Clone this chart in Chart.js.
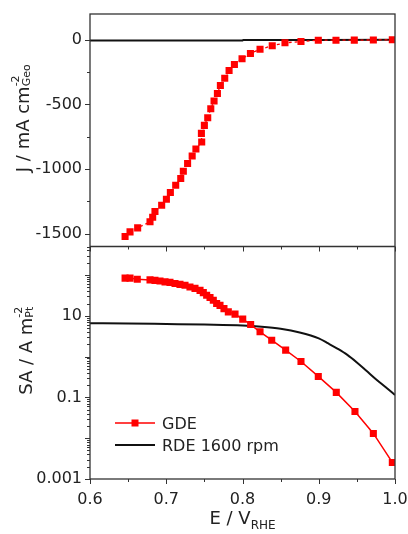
<!DOCTYPE html>
<html>
<head>
<meta charset="utf-8">
<script src="https://cdn.jsdelivr.net/npm/chart.js@4.4.1/dist/chart.umd.min.js"></script>
<style>
    html, body { margin: 0; padding: 0; background: #fff; }
    #grafico { display: block; }
</style>
</head>
<body>
<canvas id="grafico" width="408" height="534"></canvas>
<script>
// painel de cima: densidade de corrente GDE (E / V, J / mA cm-2)
const potencialGDE = [0.646, 0.6525, 0.6625, 0.6787, 0.6822, 0.6852, 0.694, 0.7002, 0.7054, 0.7124,
    0.719, 0.7224, 0.728, 0.734, 0.7389, 0.7465, 0.7461, 0.75, 0.7544, 0.7584,
    0.7627, 0.7671, 0.771, 0.7767, 0.7824, 0.7894, 0.7994, 0.8104, 0.823, 0.839,
    0.8557, 0.8767, 0.8994, 0.9226, 0.9466, 0.9716, 0.9965]
const correnteGDE = [-1523, -1487, -1456, -1409, -1373, -1329, -1280, -1234, -1182, -1126,
    -1074, -1018, -958, -899, -845, -791, -724, -662, -603, -533,
    -474, -415, -353, -297, -237, -191, -147, -106, -73, -46,
    -23, -13, -3, -3, -2, -1, 0]

// corrente RDE 1600 rpm no painel de cima
const potencialRDE = [0.6, 0.7, 0.8, 0.801, 0.9, 1.0]
const correnteRDE = [-6, -6, -6, -1, -0.5, 0]

// painel de baixo: atividade específica (A m-2 Pt), escala log
const potencialSA = [0.646, 0.6525, 0.662, 0.6787, 0.6852, 0.6918, 0.6984, 0.7049, 0.7115, 0.718,
    0.7246, 0.7311, 0.7377, 0.7443, 0.7486, 0.753, 0.7574, 0.7617, 0.7661, 0.7705,
    0.7757, 0.7814, 0.7902, 0.8003, 0.8107, 0.823, 0.8383, 0.8566, 0.8767, 0.8994,
    0.923, 0.9475, 0.9716, 0.9965]
const atividadeGDE = [84, 84, 79, 76, 74, 71, 68, 66, 62, 59,
    56, 51, 47, 42, 37, 32, 28, 24, 20, 18,
    15, 12.5, 11, 8.3, 6.1, 4.06, 2.53, 1.44, 0.76, 0.327,
    0.133, 0.045, 0.0131, 0.00255]

const potencialRDEsa = [0.6, 0.65, 0.7, 0.75, 0.8, 0.825, 0.85, 0.875, 0.9, 0.9125,
    0.925, 0.9375, 0.95, 0.9625, 0.975, 0.9875, 1.0]
const atividadeRDE = [6.6, 6.5, 6.3, 6.1, 5.8, 5.4, 4.8, 3.9, 2.8, 2.1,
    1.55, 1.1, 0.72, 0.45, 0.28, 0.18, 0.115]

const ticksX = [0.6, 0.7, 0.8, 0.9, 1.0]
const ticksJ = [-1500, -1000, -500, 0]
const ticksSA = [0.001, 0.1, 10]

const vermelho = '#ff0000'
const preto = '#111111'
const corEixo = '#333333'
const fonte = "'DejaVu Sans', sans-serif"

Chart.defaults.font.family = fonte
Chart.defaults.color = '#222'

function pares(xs, ys) {
    return xs.map((x, i) => ({ x: x, y: ys[i] }))
}

// escreve texto com sobrescrito/subscrito empilhados
function textoComposto(ctx, partes, x, y) {
    let cx = x
    partes.forEach(p => {
        ctx.font = `${p.tam}px ${fonte}`
        ctx.fillText(p.t, cx, y + p.dy)
        if (p.avanca !== false) cx += ctx.measureText(p.t).width
    })
}

function larguraComposta(ctx, partes) {
    let w = 0
    partes.forEach(p => {
        ctx.font = `${p.tam}px ${fonte}`
        if (p.avanca !== false) w += ctx.measureText(p.t).width
    })
    return w
}

const tituloJ = [
    { t: 'J / mA cm', tam: 18, dy: 0 },
    { t: '-2', tam: 11, dy: -10, avanca: false },
    { t: 'Geo', tam: 11, dy: 1 }
]
const tituloSA = [
    { t: 'SA / A m', tam: 18, dy: 0 },
    { t: '-2', tam: 11, dy: -10, avanca: false },
    { t: 'Pt', tam: 11, dy: 1 }
]
const tituloX = [
    { t: 'E / V', tam: 18, dy: 0 },
    { t: 'RHE', tam: 12, dy: 5 }
]

// moldura, marcas dos eixos, títulos e legenda
const moldura = {
    id: 'moldura',
    afterDraw(chart) {
        const ctx = chart.ctx
        const area = chart.chartArea
        const sx = chart.scales.x
        const sJ = chart.scales.yJ
        const sSA = chart.scales.ySA

        ctx.save()
        ctx.strokeStyle = corEixo
        ctx.lineWidth = 1.3
        ctx.strokeRect(area.left, area.top, area.right - area.left, area.bottom - area.top)
        ctx.beginPath()
        ctx.moveTo(area.left, sSA.top)
        ctx.lineTo(area.right, sSA.top)
        ctx.stroke()

        ctx.lineWidth = 1
        ctx.beginPath()
        // marcas do eixo x (embaixo e na divisa dos painéis)
        for (let i = 0; i <= 8; i++) {
            const v = 0.6 + i * 0.05
            const px = Math.round(sx.getPixelForValue(v)) + 0.5
            const len = i % 2 === 0 ? 5 : 3
            ctx.moveTo(px, area.bottom)
            ctx.lineTo(px, area.bottom + len)
            ctx.moveTo(px, sSA.top)
            ctx.lineTo(px, sSA.top + len)
        }
        // marcas do eixo J
        for (let v = -1500; v <= 0; v += 250) {
            const py = Math.round(sJ.getPixelForValue(v)) + 0.5
            const len = v % 500 === 0 ? 5 : 3
            ctx.moveTo(area.left, py)
            ctx.lineTo(area.left - len, py)
        }
        // marcas do eixo log
        for (let n = -3; n <= 2; n++) {
            for (let k = 1; k <= 9; k++) {
                const v = k * Math.pow(10, n)
                if (v > sSA.max) continue
                const py = Math.round(sSA.getPixelForValue(v)) + 0.5
                const len = k === 1 ? 5 : 3
                ctx.moveTo(area.left, py)
                ctx.lineTo(area.left - len, py)
            }
        }
        ctx.stroke()

        // títulos dos eixos
        ctx.fillStyle = '#222'
        ctx.textBaseline = 'alphabetic'
        ctx.textAlign = 'left'

        const wx = larguraComposta(ctx, tituloX)
        textoComposto(ctx, tituloX, (area.left + area.right) / 2 - wx / 2, area.bottom + 45)

        const titulos = [[tituloJ, sJ, 29], [tituloSA, sSA, 32]]
        titulos.forEach(([partes, escala, bx]) => {
            const w = larguraComposta(ctx, partes)
            const cy = (escala.top + escala.bottom) / 2 - 12
            ctx.save()
            ctx.translate(bx, cy)
            ctx.rotate(-Math.PI / 2)
            textoComposto(ctx, partes, -w / 2, 0)
            ctx.restore()
        })

        // legenda
        const lx0 = area.left + 25
        const lx1 = area.left + 65
        const itens = [
            { nome: 'GDE', cor: vermelho, y: area.bottom - 56, marca: true, largura: 1.5 },
            { nome: 'RDE 1600 rpm', cor: preto, y: area.bottom - 34, marca: false, largura: 2 }
        ]
        itens.forEach(item => {
            ctx.strokeStyle = item.cor
            ctx.lineWidth = item.largura
            ctx.beginPath()
            ctx.moveTo(lx0, item.y)
            ctx.lineTo(lx1, item.y)
            ctx.stroke()
            if (item.marca) {
                ctx.fillStyle = item.cor
                ctx.fillRect((lx0 + lx1) / 2 - 3.5, item.y - 3.5, 7, 7)
            }
            ctx.fillStyle = '#222'
            ctx.font = `16px ${fonte}`
            ctx.fillText(item.nome, lx1 + 7, item.y + 6)
        })
        ctx.restore()
    }
}

// zera as folgas que o chart.js reserva para os rótulos das pontas
function ajustarEixoY(s) {
    s.width = 90
    s.paddingTop = 0
    s.paddingBottom = 0
}

const ctx = document.getElementById('grafico').getContext('2d')

new Chart(ctx, {
    type: 'line',
    data: {
        datasets: [
            {
                label: 'GDE',
                data: pares(potencialGDE, correnteGDE),
                yAxisID: 'yJ',
                borderColor: vermelho,
                backgroundColor: vermelho,
                borderWidth: 1.3,
                borderDash: [3, 3],
                pointStyle: 'rect',
                pointRadius: 5,
                pointBorderWidth: 0,
                tension: 0
            },
            {
                label: 'GDE SA',
                data: pares(potencialSA, atividadeGDE),
                yAxisID: 'ySA',
                borderColor: vermelho,
                backgroundColor: vermelho,
                borderWidth: 1.5,
                pointStyle: 'rect',
                pointRadius: 5,
                pointBorderWidth: 0,
                tension: 0
            },
            {
                label: 'RDE 1600 rpm',
                data: pares(potencialRDE, correnteRDE),
                yAxisID: 'yJ',
                borderColor: preto,
                borderWidth: 2,
                pointRadius: 0,
                tension: 0
            },
            {
                label: 'RDE 1600 rpm SA',
                data: pares(potencialRDEsa, atividadeRDE),
                yAxisID: 'ySA',
                borderColor: preto,
                borderWidth: 2,
                pointRadius: 0,
                cubicInterpolationMode: 'monotone'
            }
        ]
    },
    options: {
        responsive: false,
        animation: false,
        devicePixelRatio: 1,
        layout: {
            padding: { top: 14, right: 13, left: 0, bottom: 0 }
        },
        scales: {
            x: {
                type: 'linear',
                min: 0.6,
                max: 1.0,
                afterBuildTicks: s => { s.ticks = ticksX.map(v => ({ value: v })) },
                afterFit: s => {
                    s.height = 55
                    s.paddingLeft = 0
                    s.paddingRight = 0
                },
                ticks: {
                    callback: v => v.toFixed(1),
                    font: { size: 16 },
                    padding: 11,
                    maxRotation: 0,
                    autoSkip: false
                },
                grid: { display: false, drawTicks: false },
                border: { display: false }
            },
            ySA: {
                type: 'logarithmic',
                position: 'left',
                stack: 'paineis',
                stackWeight: 1,
                min: 0.001,
                max: 500,
                afterBuildTicks: s => { s.ticks = ticksSA.map(v => ({ value: v })) },
                afterFit: ajustarEixoY,
                ticks: {
                    callback: v => String(v),
                    font: { size: 16 },
                    padding: 8,
                    autoSkip: false
                },
                grid: { display: false, drawTicks: false },
                border: { display: false }
            },
            yJ: {
                type: 'linear',
                position: 'left',
                stack: 'paineis',
                stackWeight: 1,
                min: -1600,
                max: 200,
                afterBuildTicks: s => { s.ticks = ticksJ.map(v => ({ value: v })) },
                afterFit: ajustarEixoY,
                ticks: {
                    callback: v => String(v),
                    font: { size: 16 },
                    padding: 8,
                    autoSkip: false
                },
                grid: { display: false, drawTicks: false },
                border: { display: false }
            }
        },
        plugins: {
            legend: { display: false },
            tooltip: { enabled: false }
        }
    },
    plugins: [moldura]
})
</script>
</body>
</html>
